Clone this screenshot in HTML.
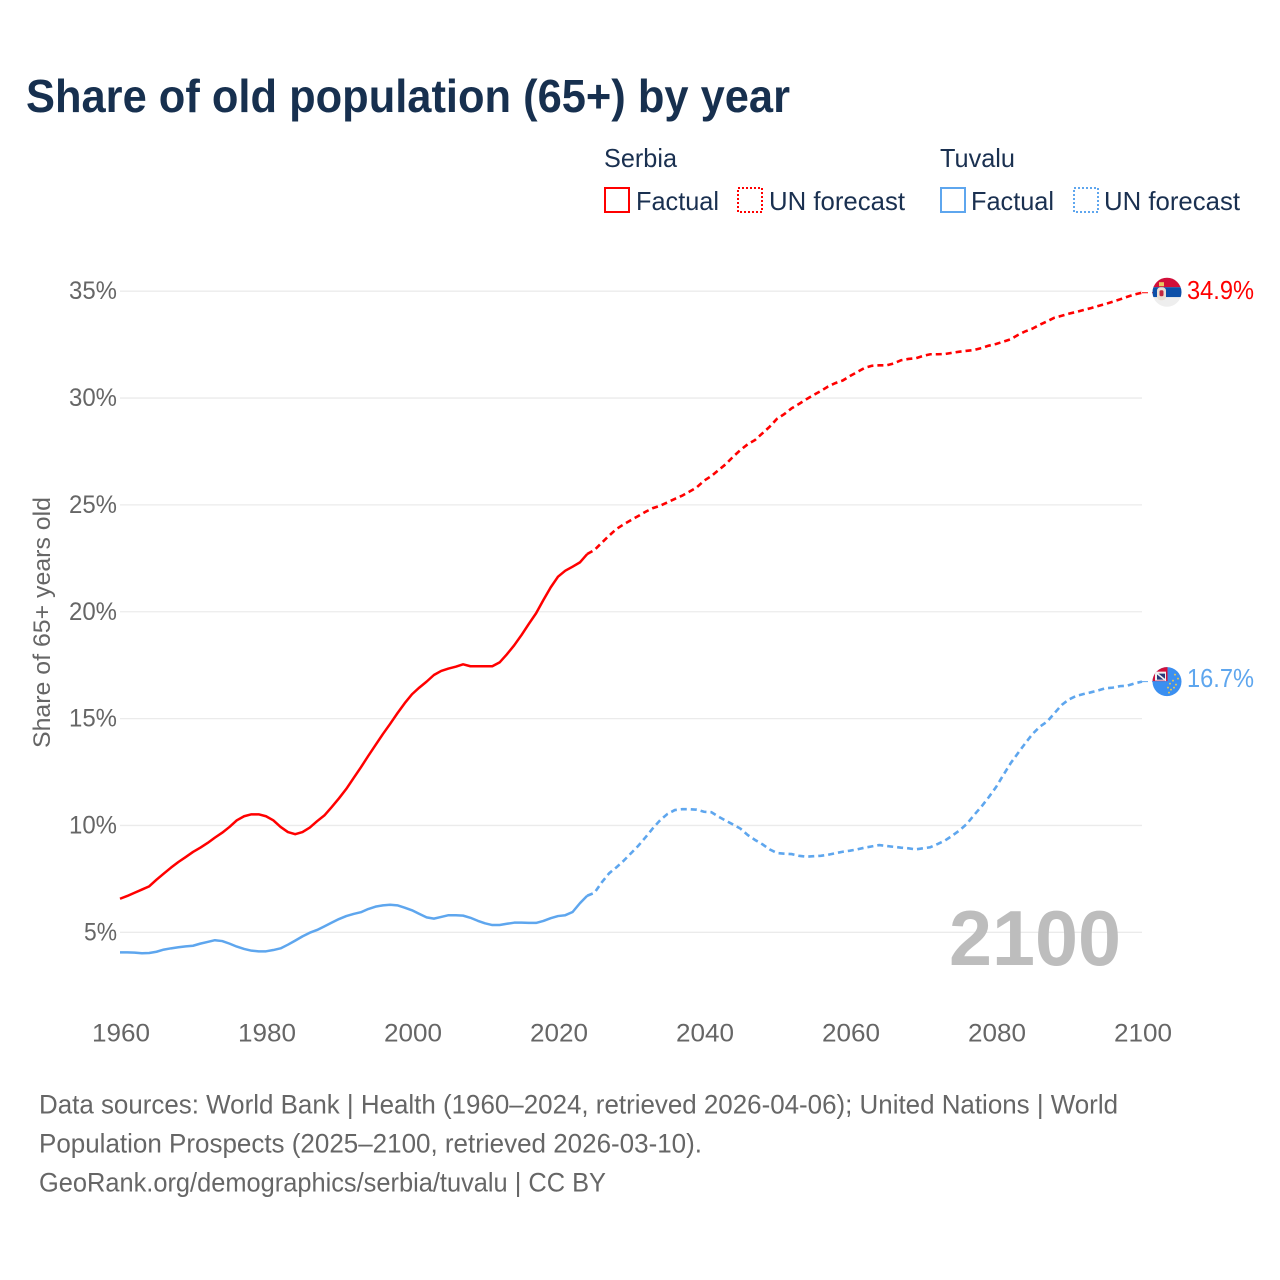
<!DOCTYPE html>
<html lang="en">
<head>
<meta charset="utf-8">
<title>Share of old population (65+) by year</title>
<style>
html,body{margin:0;padding:0;background:#fff;}
svg{display:block;font-family:"Liberation Sans",sans-serif;}
</style>
</head>
<body>
<svg id="chart" xmlns="http://www.w3.org/2000/svg" width="1280" height="1280" viewBox="0 0 1280 1280">
  <defs>
    <clipPath id="flag-clip"><circle cx="0" cy="0" r="14.5"></circle></clipPath>
  </defs>
  <rect width="1280" height="1280" fill="#ffffff"></rect>
  <text x="26" y="112" font-size="46" font-weight="700" fill="#17304f" textLength="764" lengthAdjust="spacingAndGlyphs">Share of old population (65+) by year</text>

  <g font-size="26" fill="#1a3050">
    <text x="604" y="167" textLength="73" lengthAdjust="spacingAndGlyphs">Serbia</text>
    <text x="940" y="167" textLength="75" lengthAdjust="spacingAndGlyphs">Tuvalu</text>
    <rect x="605" y="188" width="24" height="24" fill="none" stroke="#ff0000" stroke-width="2"></rect>
    <text x="636" y="210" textLength="83" lengthAdjust="spacingAndGlyphs">Factual</text>
    <rect x="738" y="188" width="24" height="24" fill="none" stroke="#ff0000" stroke-width="2" stroke-dasharray="2 2"></rect>
    <text x="769" y="210" textLength="136" lengthAdjust="spacingAndGlyphs">UN forecast</text>
    <rect x="941" y="188" width="24" height="24" fill="none" stroke="#5ea6ee" stroke-width="2"></rect>
    <text x="971" y="210" textLength="83" lengthAdjust="spacingAndGlyphs">Factual</text>
    <rect x="1074" y="188" width="24" height="24" fill="none" stroke="#5ea6ee" stroke-width="2" stroke-dasharray="2 2"></rect>
    <text x="1104" y="210" textLength="136" lengthAdjust="spacingAndGlyphs">UN forecast</text>
  </g>

  <text transform="translate(50,622.5) rotate(-90)" text-anchor="middle" font-size="24" fill="#666666" textLength="251" lengthAdjust="spacingAndGlyphs">Share of 65+ years old</text>

  <g id="grid"></g>
  <g id="y-ticks"></g>
  <g id="x-ticks"></g>

  <text x="949" y="965" font-size="78" font-weight="700" fill="#bdbdbd" textLength="172" lengthAdjust="spacingAndGlyphs">2100</text>

  <g id="series"></g>
  <g id="flags"></g>

  <g font-size="27" fill="#666666">
    <text x="39" y="1113.5" textLength="1079" lengthAdjust="spacingAndGlyphs">Data sources: World Bank | Health (1960–2024, retrieved 2026-04-06); United Nations | World</text>
    <text x="39" y="1152.5" textLength="663" lengthAdjust="spacingAndGlyphs">Population Prospects (2025–2100, retrieved 2026-03-10).</text>
    <text x="39" y="1191.5" textLength="567" lengthAdjust="spacingAndGlyphs">GeoRank.org/demographics/serbia/tuvalu | CC BY</text>
  </g>
</svg>
<script>
const yTickValues = [5, 10, 15, 20, 25, 30, 35];
const yTickLabels = ["5%", "10%", "15%", "20%", "25%", "30%", "35%"];
const xTickYears = [1960, 1980, 2000, 2020, 2040, 2060, 2080, 2100];
const factualStartYear = 1960;
const forecastStartYear = 2024;

const serbiaFactual = [6.57,6.70,6.85,7.00,7.15,7.46,7.75,8.03,8.29,8.52,8.76,8.96,9.18,9.43,9.66,9.93,10.24,10.43,10.52,10.52,10.43,10.24,9.93,9.69,9.59,9.69,9.90,10.20,10.47,10.86,11.27,11.71,12.22,12.72,13.25,13.76,14.27,14.75,15.25,15.72,16.14,16.45,16.73,17.04,17.23,17.34,17.43,17.54,17.45,17.45,17.45,17.45,17.63,18.01,18.43,18.91,19.43,19.93,20.55,21.14,21.64,21.92,22.11,22.31,22.70];
const serbiaForecast = [22.70,22.89,23.23,23.56,23.87,24.09,24.29,24.48,24.68,24.85,24.96,25.12,25.28,25.43,25.62,25.82,26.13,26.35,26.63,26.91,27.26,27.57,27.84,28.04,28.35,28.66,29.03,29.25,29.52,29.72,29.94,30.14,30.33,30.54,30.70,30.82,31.03,31.22,31.41,31.51,31.53,31.53,31.62,31.77,31.83,31.86,31.97,32.05,32.05,32.06,32.12,32.17,32.21,32.25,32.34,32.45,32.53,32.64,32.75,32.95,33.12,33.25,33.43,33.59,33.76,33.85,33.95,34.03,34.12,34.21,34.31,34.40,34.51,34.62,34.74,34.85,34.93];
const tuvaluFactual = [4.06,4.06,4.05,4.02,4.03,4.09,4.19,4.25,4.30,4.34,4.37,4.47,4.55,4.63,4.59,4.47,4.33,4.22,4.14,4.11,4.11,4.17,4.25,4.42,4.61,4.81,4.98,5.11,5.28,5.45,5.62,5.76,5.86,5.94,6.09,6.20,6.26,6.29,6.26,6.15,6.03,5.86,5.70,5.64,5.72,5.80,5.80,5.78,5.68,5.54,5.42,5.34,5.34,5.40,5.45,5.45,5.44,5.44,5.53,5.66,5.76,5.80,5.95,6.36,6.71];
const tuvaluForecast = [6.71,6.85,7.34,7.76,8.04,8.35,8.70,9.05,9.45,9.87,10.25,10.54,10.72,10.76,10.76,10.74,10.64,10.62,10.41,10.22,10.04,9.85,9.55,9.32,9.12,8.88,8.71,8.68,8.66,8.58,8.54,8.56,8.58,8.63,8.70,8.77,8.82,8.88,8.96,9.02,9.08,9.04,9.00,8.96,8.93,8.88,8.93,8.98,9.13,9.29,9.52,9.77,10.07,10.49,10.88,11.32,11.79,12.36,12.91,13.38,13.84,14.28,14.62,14.86,15.25,15.64,15.90,16.06,16.15,16.23,16.32,16.42,16.45,16.52,16.54,16.65,16.73];
const serbiaEndLabel = "34.9%";
const tuvaluEndLabel = "16.7%";

const NS = "http://www.w3.org/2000/svg";
const RED = "#ff0000";
const BLUE = "#5ea6ee";
const plotLeft = 120, plotRight = 1142;
function xScale(year) { return plotLeft + (year - 1960) * (plotRight - plotLeft) / 140; }
function yScale(v) { return 932.3 - (v - 5) * 21.37; }
function make(tag, parent, attrs) {
  const el = document.createElementNS(NS, tag);
  for (const k in attrs) el.setAttribute(k, attrs[k]);
  parent.appendChild(el);
  return el;
}

const grid = document.getElementById("grid");
const yTicks = document.getElementById("y-ticks");
const xTicks = document.getElementById("x-ticks");
const series = document.getElementById("series");
const flags = document.getElementById("flags");

yTickValues.forEach(function (v, i) {
  const line = make("line", grid, { x1: plotLeft, x2: plotRight, y1: yScale(v), y2: yScale(v), stroke: "#ebebeb", "stroke-width": 1.3 });
  
  
  const label = make("text", yTicks, { x: 117, y: yScale(v) + 8, "text-anchor": "end", "font-size": 25, fill: "#666666", textLength: yTickLabels[i].length === 3 ? 48 : 33, lengthAdjust: "spacingAndGlyphs" });
  label.textContent = yTickLabels[i];
  
  
});

xTickYears.forEach(function (yr) {
  const label = make("text", xTicks, { x: xScale(yr) + 1, y: 1041.5, "text-anchor": "middle", "font-size": 25, fill: "#666666", textLength: 58, lengthAdjust: "spacingAndGlyphs" });
  label.textContent = String(yr);
  
  
});

function points(values, startYear) {
  return values.map(function (v, i) { return xScale(startYear + i).toFixed(2) + "," + yScale(v).toFixed(2); }).join(" ");
}

const serbiaFactualLine = make("polyline", series, { points: points(serbiaFactual, factualStartYear), fill: "none", stroke: RED, "stroke-width": 2.5, "stroke-linejoin": "round" });


const serbiaForecastLine = make("polyline", series, { points: points(serbiaForecast, forecastStartYear), fill: "none", stroke: RED, "stroke-width": 2.6, "stroke-dasharray": "6 4" });


const tuvaluFactualLine = make("polyline", series, { points: points(tuvaluFactual, factualStartYear), fill: "none", stroke: BLUE, "stroke-width": 2.5, "stroke-linejoin": "round" });


const tuvaluForecastLine = make("polyline", series, { points: points(tuvaluForecast, forecastStartYear), fill: "none", stroke: BLUE, "stroke-width": 2.6, "stroke-dasharray": "6 4" });



const serbiaEndY = yScale(serbiaForecast[serbiaForecast.length - 1]);
const tuvaluEndY = yScale(tuvaluForecast[tuvaluForecast.length - 1]);

const serbiaLead = make("line", series, { x1: plotRight, x2: plotRight + 11, y1: serbiaEndY, y2: serbiaEndY, stroke: RED, "stroke-width": 1, "stroke-dasharray": "6 4" });


const tuvaluLead = make("line", series, { x1: plotRight, x2: plotRight + 11, y1: tuvaluEndY, y2: tuvaluEndY, stroke: BLUE, "stroke-width": 1, "stroke-dasharray": "6 4" });



/* Serbia flag */
const sFlag = make("g", flags, { transform: "translate(" + (plotRight + 25) + "," + (serbiaEndY - 0.5) + ")", "clip-path": "url(#flag-clip)" });


make("rect", sFlag, { x: -15, y: -15, width: 30, height: 10, fill: "#d2103a" });
make("rect", sFlag, { x: -15, y: -5, width: 30, height: 10, fill: "#0c4fa8" });
make("rect", sFlag, { x: -15, y: 5, width: 30, height: 10, fill: "#eeeeee" });
make("rect", sFlag, { x: -10, y: -5, width: 9, height: 13, rx: 3.5, fill: "#e9e0d4" });
make("rect", sFlag, { x: -8, y: -10, width: 5, height: 4, fill: "#e8c760" });
make("rect", sFlag, { x: -7.5, y: -2, width: 4, height: 6, rx: 1.5, fill: "#c4273f" });

/* Tuvalu flag */
const tFlag = make("g", flags, { transform: "translate(" + (plotRight + 25) + "," + tuvaluEndY + ")", "clip-path": "url(#flag-clip)" });


make("rect", tFlag, { x: -15, y: -15, width: 30, height: 30, fill: "#3b8ff0" });
make("rect", tFlag, { x: -15, y: -15, width: 15.5, height: 14.5, fill: "#d2103a" });
make("rect", tFlag, { x: -12, y: -10, width: 11, height: 9, fill: "#f2f2f2" });
make("rect", tFlag, { x: -10, y: -8, width: 8, height: 6, fill: "#27397a" });
make("line", tFlag, { x1: -11, y1: -9, x2: -1, y2: -1, stroke: "#f2f2f2", "stroke-width": 1.6 });
const tuvaluStarX = [8, 11, 6, 3, 9, 1, 4, 7, 2];
const tuvaluStarY = [-7, -3, -1, 2, 3, 6, 8, 6, 11];
tuvaluStarX.forEach(function (sx, i) {
  make("circle", tFlag, { cx: sx, cy: tuvaluStarY[i], r: 0.95, fill: "#e9c84f" });
});

const serbiaLabel = make("text", flags, { x: 1187, y: serbiaEndY + 6.5, "font-size": 26, fill: RED, textLength: 67, lengthAdjust: "spacingAndGlyphs" });
serbiaLabel.textContent = serbiaEndLabel;


const tuvaluLabel = make("text", flags, { x: 1187, y: tuvaluEndY + 5.5, "font-size": 26, fill: BLUE, textLength: 67, lengthAdjust: "spacingAndGlyphs" });
tuvaluLabel.textContent = tuvaluEndLabel;


</script>
</body>
</html>
